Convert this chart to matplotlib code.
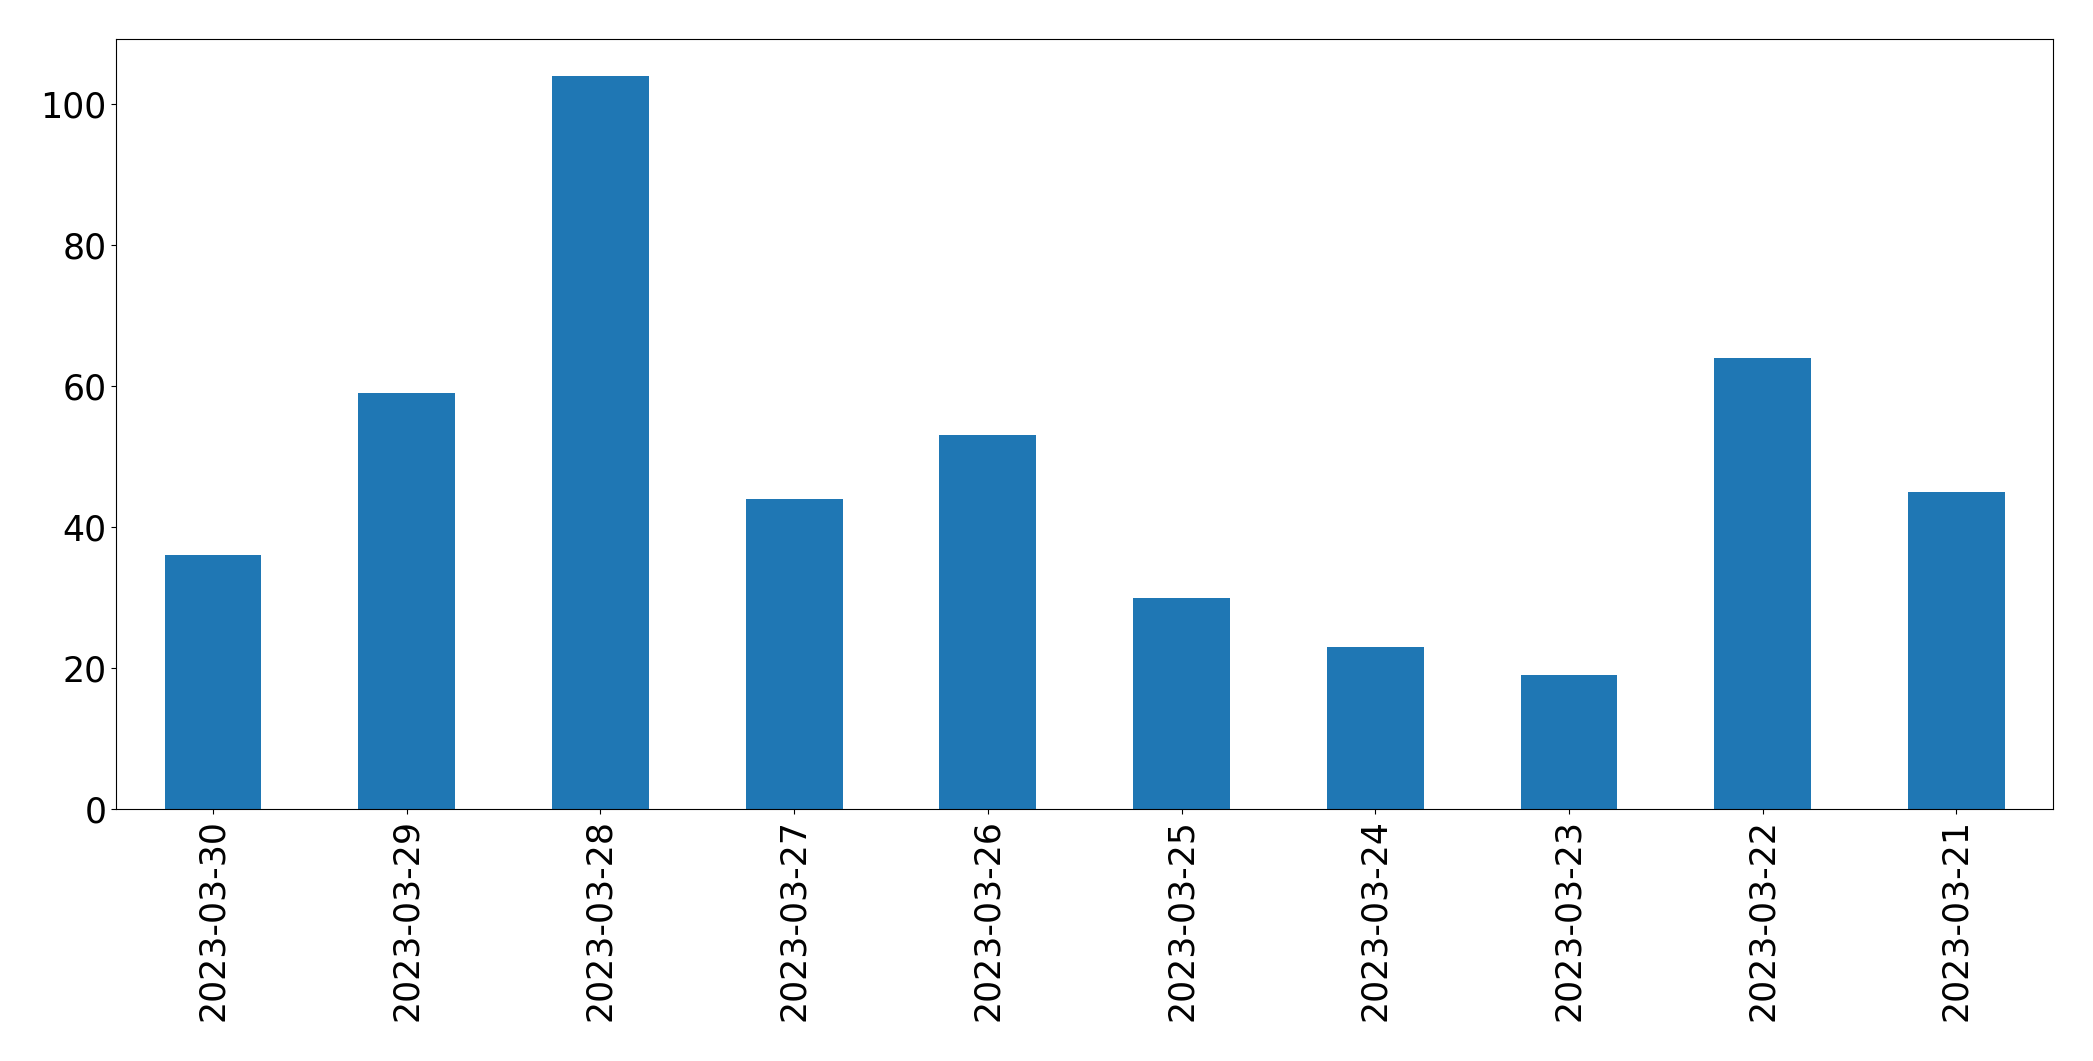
import pandas as pd
import matplotlib
matplotlib.use("Agg")
import matplotlib.pyplot as plt

dates = ['2023-03-30', '2023-03-29', '2023-03-28', '2023-03-27', '2023-03-26',
         '2023-03-25', '2023-03-24', '2023-03-23', '2023-03-22', '2023-03-21']
counts = [36, 59, 104, 44, 53, 30, 23, 19, 64, 45]

s = pd.Series(counts, index=dates)

fig = plt.figure(figsize=(20.93, 10.61), dpi=100)
ax = fig.add_axes([0.0555, 0.2375, 0.9255, 0.7255])
s.plot(kind='bar', ax=ax, color='#1f77b4')
ax.tick_params(axis='both', labelsize=25)
ax.set_ylim(0, 109.2)

plt.savefig('out.png', dpi=100)
